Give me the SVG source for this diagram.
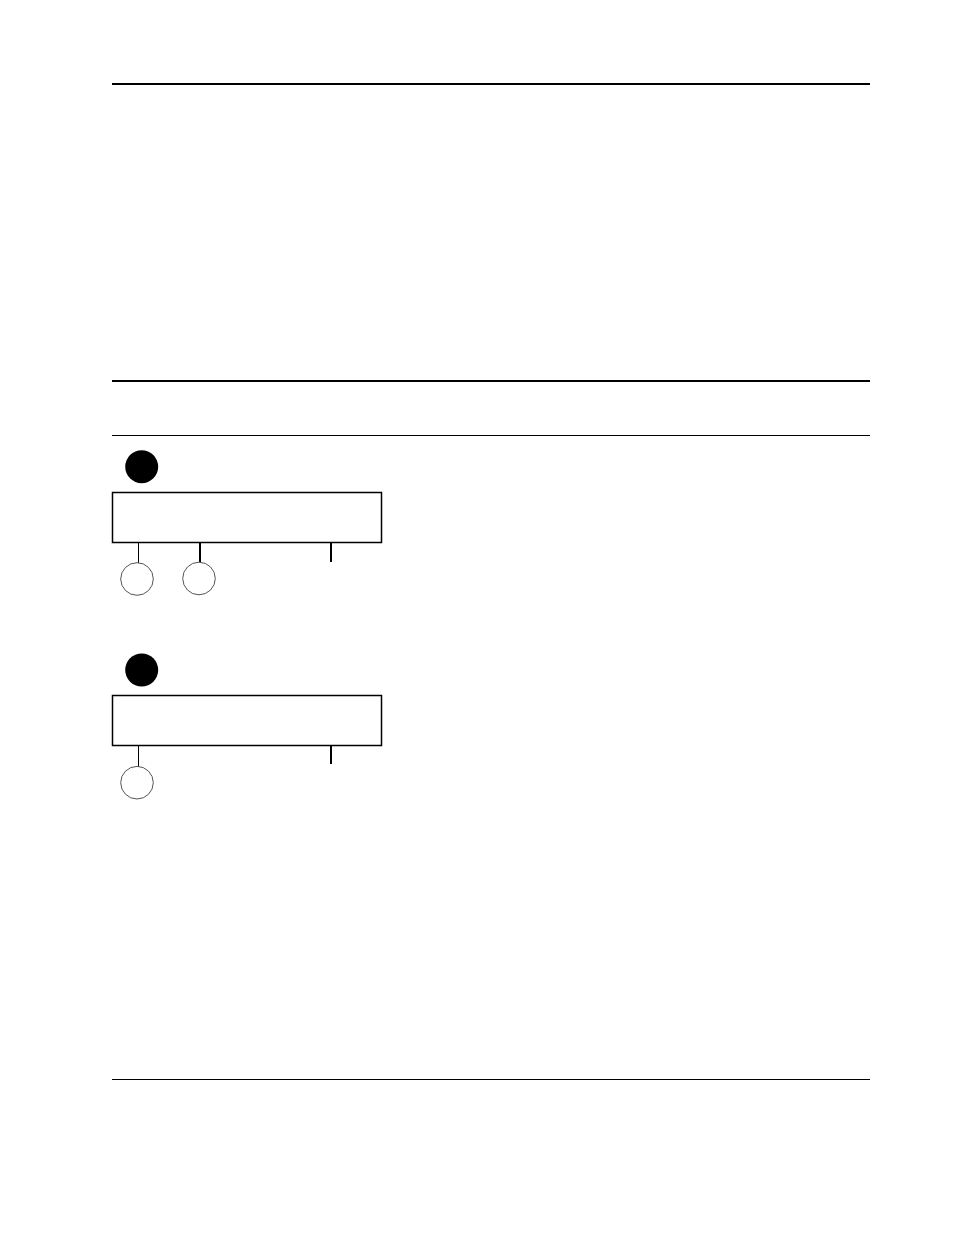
<svg xmlns="http://www.w3.org/2000/svg" width="954" height="1235" viewBox="0 0 954 1235">
<style>
.rule{stroke:#000;fill:none}
.box{fill:#fff;stroke:#000;stroke-width:1.5}
.dot{fill:#000}
.ring{fill:#fff;stroke:#555;stroke-width:1}
.stub{stroke:#000}
</style>
<rect width="954" height="1235" fill="#fff"/>
<g id="rules">
<line class="rule" x1="112" y1="84" x2="870" y2="84" stroke-width="2"/>
<line class="rule" x1="112" y1="381" x2="870" y2="381" stroke-width="2"/>
<line class="rule" x1="112" y1="435.5" x2="870" y2="435.5" stroke-width="1"/>
<line class="rule" x1="112" y1="1079.5" x2="870" y2="1079.5" stroke-width="1"/>
</g>
<g id="connectors">
<line class="stub" x1="138.5" y1="543" x2="138.5" y2="563" stroke-width="1"/>
<line class="stub" x1="200" y1="543" x2="200" y2="562" stroke-width="2"/>
<line class="stub" x1="331" y1="543" x2="331" y2="562" stroke-width="2"/>
<line class="stub" x1="138.5" y1="746" x2="138.5" y2="767" stroke-width="1"/>
<line class="stub" x1="331" y1="746" x2="331" y2="764" stroke-width="2"/>
</g>
<g id="node1">
<circle class="dot" cx="141.7" cy="466.7" r="16.5"/>
<rect class="box" x="112.5" y="492.5" width="269" height="50"/>
</g>
<g id="node1a"><circle class="ring" cx="137" cy="579" r="16.3"/></g>
<g id="node1b"><circle class="ring" cx="199" cy="578.5" r="16.3"/></g>
<g id="node2">
<circle class="dot" cx="141.7" cy="670" r="16.5"/>
<rect class="box" x="112.5" y="695.5" width="269" height="50"/>
</g>
<g id="node2a"><circle class="ring" cx="137" cy="782.7" r="16.3"/></g>
</svg>
